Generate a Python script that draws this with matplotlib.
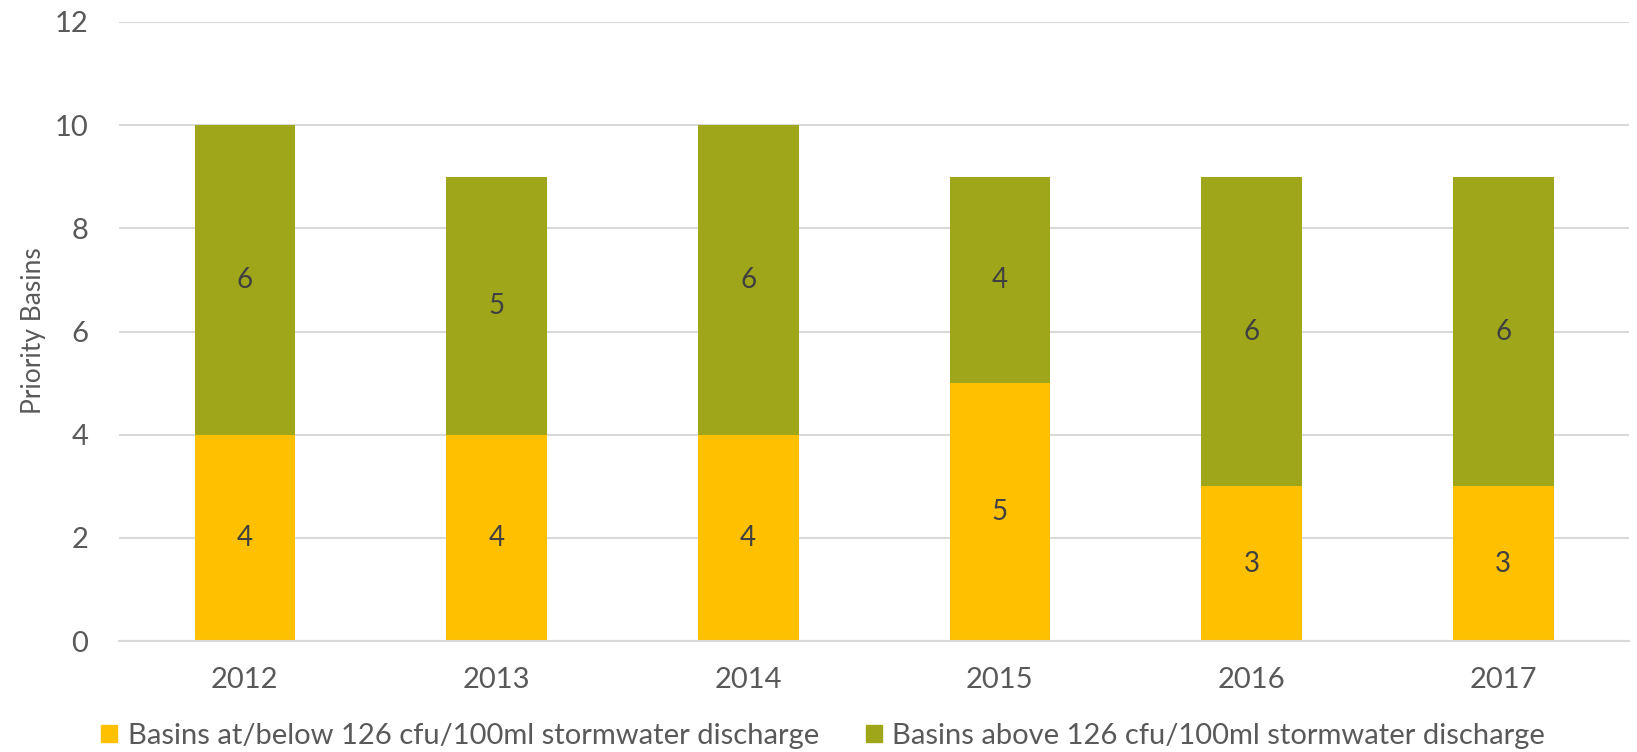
import matplotlib
matplotlib.use("Agg")
import matplotlib.pyplot as plt
from matplotlib.patches import Patch
import numpy as np

years = ["2012", "2013", "2014", "2015", "2016", "2017"]
below = [4, 4, 4, 5, 3, 3]
above = [6, 5, 6, 4, 6, 6]
series_names = [
    "Basins at/below 126 cfu/100ml stormwater discharge",
    "Basins above 126 cfu/100ml stormwater discharge",
]
y_ticks = [0, 2, 4, 6, 8, 10, 12]

YELLOW = "#FFC000"
OLIVE = "#A0A61A"
TEXT = "#595959"
LABEL = "#404040"
GRID = "#D9D9D9"

plt.rcParams["font.family"] = ["Lato", "DejaVu Sans"]

fig = plt.figure(figsize=(16.37, 7.52), dpi=100)
ax = fig.add_axes([119 / 1637, 1 - 641 / 752, 1510 / 1637, 619 / 752])

x = np.arange(len(years))
width = 0.4
b1 = ax.bar(x, below, width, color=YELLOW, zorder=2)
b2 = ax.bar(x, above, width, bottom=below, color=OLIVE, zorder=2)

# value labels in the middle of each segment
for vals, base in ((below, [0] * len(below)), (above, below)):
    for xi, v, b in zip(x, vals, base):
        ax.text(xi, b + v / 2, str(v), ha="center", va="center",
                fontsize=20, color=LABEL, zorder=3)

ax.set_xlim(-0.5, len(years) - 0.5)
ax.set_ylim(0, 12)
ax.set_yticks(y_ticks)
ax.set_xticks(x)
ax.set_xticklabels(years)
ax.yaxis.grid(True, color=GRID, linewidth=1.5, zorder=0)
ax.set_axisbelow(True)
for s in ("top", "right", "left"):
    ax.spines[s].set_visible(False)
ax.spines["bottom"].set_color(GRID)
ax.spines["bottom"].set_linewidth(1.5)
ax.tick_params(axis="y", length=0, pad=22, labelsize=21, labelcolor=TEXT)
ax.tick_params(axis="x", length=0, pad=19, labelsize=21, labelcolor=TEXT)

fig.text(34 / 1637, 1 - 331 / 752, "Priority Basins",
         rotation=90, ha="center", va="center", fontsize=19, color=TEXT)

handles = [Patch(color=YELLOW), Patch(color=OLIVE)]
fig.legend(handles, series_names, loc="center", ncol=2,
           bbox_to_anchor=(823 / 1637, 1 - 736 / 752), frameon=False,
           fontsize=21, labelcolor=TEXT, handlelength=0.55, handleheight=0.55,
           handletextpad=0.35, columnspacing=1.6, borderpad=0, borderaxespad=0)

fig.savefig("out.png", dpi=100)
